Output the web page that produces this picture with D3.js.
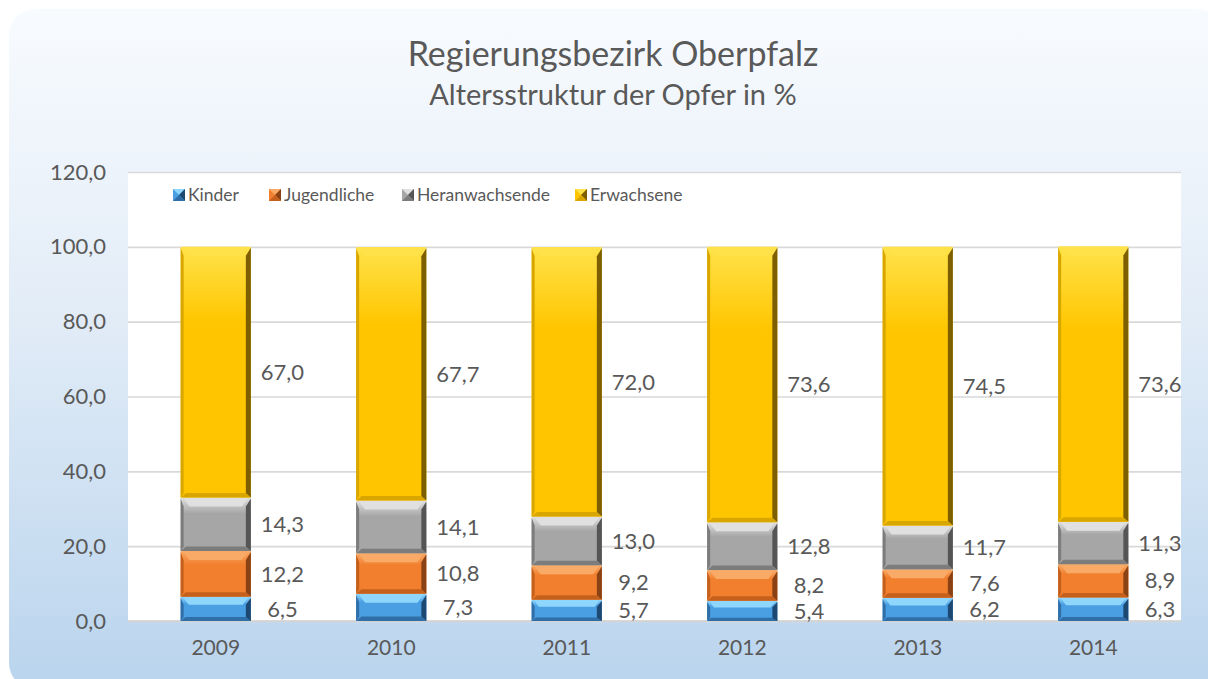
<!DOCTYPE html>
<html>
<head>
<meta charset="utf-8">
<script src="https://cdn.jsdelivr.net/npm/d3@7/dist/d3.min.js"></script>
<style>
  html, body { margin: 0; padding: 0; background: #ffffff; }
  svg { display: block; }
  text { font-family: Lato, "Open Sans", sans-serif; fill: #595959; }
</style>
</head>
<body>
<svg id="chart" width="1208" height="679"></svg>
<script>
// ---- data ----
const years = ["2009", "2010", "2011", "2012", "2013", "2014"];
const seriesNames = ["Kinder", "Jugendliche", "Heranwachsende", "Erwachsene"];
const kinder = [6.5, 7.3, 5.7, 5.4, 6.2, 6.3];
const jugendliche = [12.2, 10.8, 9.2, 8.2, 7.6, 8.9];
const heranwachsende = [14.3, 14.1, 13.0, 12.8, 11.7, 11.3];
const erwachsene = [67.0, 67.7, 72.0, 73.6, 74.5, 73.6];
const yTicks = [0, 20, 40, 60, 80, 100, 120];
const titleText = "Regierungsbezirk Oberpfalz";
const subtitleText = "Altersstruktur der Opfer in %";

// ---- styles ----
const palette = {
  Kinder:         { base: "#4a9ee2", light: "#8fd6fc", side: "#2f6ea6", dark: "#1d4872" },
  Jugendliche:    { base: "#f17f2e", light: "#f9aa66", side: "#c4601c", dark: "#8a4214" },
  Heranwachsende: { base: "#a6a6a6", light: "#e0e0e0", side: "#7c7c7c", dark: "#555555" },
  Erwachsene:     { base: "#ffc600", light: "#ffe24a", side: "#d9a600", dark: "#7d5e00" }
};

const svg = d3.select("#chart");
const fmt = v => d3.format(".1f")(v).replace(".", ",");

// background
const defs = svg.append("defs");
const bg = defs.append("linearGradient").attr("id", "bg").attr("x1", 0).attr("y1", 0).attr("x2", 0).attr("y2", 1);
bg.append("stop").attr("offset", "0%").attr("stop-color", "#f8fbfe");
bg.append("stop").attr("offset", "45%").attr("stop-color", "#e2ecf7");
bg.append("stop").attr("offset", "100%").attr("stop-color", "#b9d4ed");
svg.append("rect").attr("x", 9).attr("y", 9).attr("width", 1215).attr("height", 680)
  .attr("rx", 26).attr("fill", "url(#bg)");

// title
svg.append("text").attr("x", 613).attr("y", 66).attr("text-anchor", "middle")
  .attr("font-size", 34).text(titleText);
svg.append("text").attr("x", 613).attr("y", 105).attr("text-anchor", "middle")
  .attr("font-size", 29).text(subtitleText);

// scales
const plot = { left: 128, right: 1181, top: 172, bottom: 621 };
const x = d3.scaleBand().domain(years).range([plot.left, plot.right]).paddingInner(0.6).paddingOuter(0.3);
const y = d3.scaleLinear().domain([0, 120]).range([plot.bottom, plot.top]);

// plot area
svg.append("rect").attr("x", plot.left).attr("y", plot.top)
  .attr("width", plot.right - plot.left).attr("height", plot.bottom - plot.top).attr("fill", "#ffffff");

// gridlines + y axis
const yAxis = d3.axisLeft(y).tickValues(yTicks).tickSize(-(plot.right - plot.left)).tickFormat(fmt).tickPadding(22);
const gy = svg.append("g").attr("transform", `translate(${plot.left},0)`).call(yAxis);
gy.select(".domain").remove();
gy.selectAll(".tick line").attr("stroke", "#d9d9d9").attr("stroke-width", 1.6);
gy.selectAll(".tick text").attr("font-size", 22).attr("fill", "#595959").style("font-family", "Lato, 'Open Sans', sans-serif");

// x axis
const xAxis = d3.axisBottom(x).tickSize(0).tickPadding(19);
const gx = svg.append("g").attr("transform", `translate(0,${plot.bottom})`).call(xAxis);
gx.select(".domain").attr("stroke", "#cfcfcf").attr("stroke-width", 1.6)
  .attr("d", `M${plot.left},0H${plot.right}`);
gx.selectAll(".tick text").attr("font-size", 21).attr("fill", "#595959").style("font-family", "Lato, 'Open Sans', sans-serif");

// stacked data
const rows = years.map((yr, i) => ({
  year: yr, Kinder: kinder[i], Jugendliche: jugendliche[i],
  Heranwachsende: heranwachsende[i], Erwachsene: erwachsene[i]
}));
const stacked = d3.stack().keys(seriesNames)(rows);

// face gradients
seriesNames.forEach(name => {
  const c = palette[name];
  const g = defs.append("linearGradient").attr("id", "face-" + name)
    .attr("x1", 0).attr("y1", 0).attr("x2", 0).attr("y2", 1);
  g.append("stop").attr("offset", "0%").attr("stop-color", c.light);
  g.append("stop").attr("offset", "30%").attr("stop-color", c.base);
  g.append("stop").attr("offset", "100%").attr("stop-color", c.base);
});

const barsG = svg.append("g");
stacked.forEach(layer => {
  const name = layer.key;
  const c = palette[name];
  layer.forEach(d => {
    const x0 = x(d.data.year), w = x.bandwidth();
    const yt = y(d[1]), yb = y(d[0]), h = yb - yt;
    const b = Math.min(9, h / 3);
    const g = barsG.append("g");
    g.append("rect").attr("x", x0).attr("y", yt).attr("width", w).attr("height", h)
      .attr("fill", `url(#face-${name})`);
    g.append("path").attr("d", `M${x0 + 2},${yt}H${x0 + w - 2}L${x0 + w - b},${yt + b}H${x0 + b}Z`).attr("fill", c.light);
    g.append("path").attr("d", `M${x0},${yb}H${x0 + w}L${x0 + w - b * 0.6},${yb - b * 0.5}H${x0 + b * 0.6}Z`).attr("fill", c.side);
    g.append("path").attr("d", `M${x0},${yt + 1}L${x0 + 3},${yt + b}V${yb - b * 0.5}L${x0},${yb}Z`).attr("fill", c.side);
    g.append("path").attr("d", `M${x0 + w},${yt + 1}L${x0 + w - 5},${yt + b}V${yb - b * 0.5}L${x0 + w},${yb}Z`).attr("fill", c.dark);
  });
});

// data labels
const labelsG = svg.append("g");
stacked.forEach(layer => {
  layer.forEach(d => {
    labelsG.append("text")
      .attr("x", x(d.data.year) + x.bandwidth() * 1.45)
      .attr("y", y((d[0] + d[1]) / 2))
      .attr("dy", "0.35em")
      .attr("text-anchor", "middle")
      .attr("font-size", 22)
      .attr("fill", "#404040")
      .text(fmt(d.data[layer.key]));
  });
});

// legend
const legendX = [173, 269, 402, 575];
const legendG = svg.append("g");
seriesNames.forEach((name, i) => {
  const c = palette[name];
  const lx = legendX[i], ly = 189, s = 12;
  const g = legendG.append("g").attr("transform", `translate(${lx},${ly})`);
  g.append("rect").attr("width", s).attr("height", s).attr("fill", c.base);
  g.append("path").attr("d", `M0,0H${s}L${s / 2},${s / 2}Z`).attr("fill", c.light);
  g.append("path").attr("d", `M${s},0V${s}L${s / 2},${s / 2}Z`).attr("fill", c.dark);
  g.append("path").attr("d", `M0,${s}H${s}L${s / 2},${s / 2}Z`).attr("fill", c.side);
  legendG.append("text").attr("x", lx + s + 3).attr("y", ly + s / 2).attr("dy", "0.36em")
    .attr("font-size", 17.5).text(name);
});
</script>
</body>
</html>
